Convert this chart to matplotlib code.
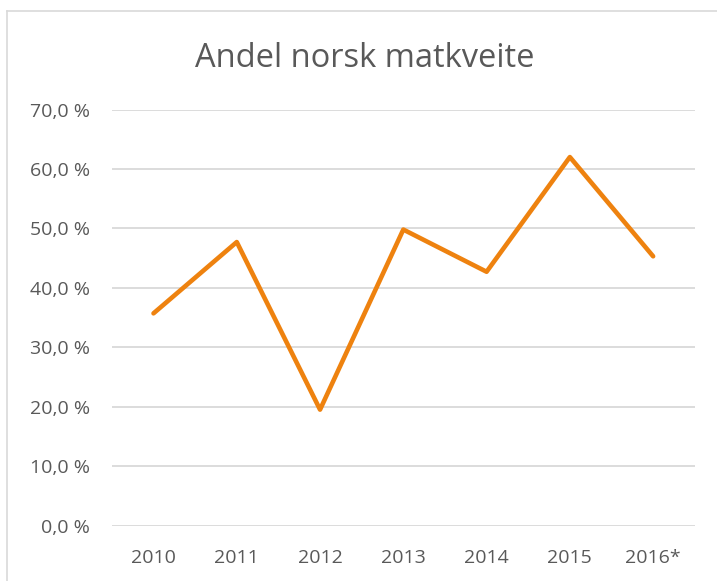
import matplotlib
matplotlib.use("Agg")
import matplotlib.pyplot as plt
from matplotlib.lines import Line2D

years = ["2010", "2011", "2012", "2013", "2014", "2015", "2016*"]
share = [35.7, 47.7, 19.5, 49.8, 42.7, 62.0, 45.3]
yticks = [0, 10, 20, 30, 40, 50, 60, 70]
ytick_labels = ["0,0 %", "10,0 %", "20,0 %", "30,0 %", "40,0 %", "50,0 %", "60,0 %", "70,0 %"]

plt.rcParams['font.family'] = ['Open Sans', 'DejaVu Sans']
txt = '#595959'

fig = plt.figure(figsize=(7.17, 5.81), dpi=100)
ax = fig.add_axes([0.156, 0.0955, 0.813, 0.716])
x = list(range(len(years)))
ax.plot(x, share, color='#EE820F', lw=3.3, solid_joinstyle='round', solid_capstyle='round', zorder=3)
ax.set_xlim(-0.5, len(years) - 0.5)
ax.set_ylim(0, 70)
ax.set_yticks(yticks)
ax.set_yticklabels(ytick_labels)
ax.set_xticks(x)
ax.set_xticklabels(years)
ax.tick_params(axis='both', length=0, colors=txt, labelsize=14)
ax.tick_params(axis='y', pad=16)
ax.tick_params(axis='x', pad=17)
ax.grid(axis='y', color='#D9D9D9', lw=1.3)
ax.set_axisbelow(True)
for s in ax.spines.values():
    s.set_visible(False)

fig.text(0.509, 1 - 67.3/581, "Andel norsk matkveite", ha='center', va='baseline', fontsize=23.5, color=txt)

fig.add_artist(Line2D([0.0098, 1.0], [1 - 10.5/581, 1 - 10.5/581], transform=fig.transFigure, color='#D9D9D9', lw=1.2))
fig.add_artist(Line2D([0.0098, 0.0098], [0.0, 1 - 10.5/581], transform=fig.transFigure, color='#D9D9D9', lw=1.2))

fig.savefig("out.png", dpi=100)
